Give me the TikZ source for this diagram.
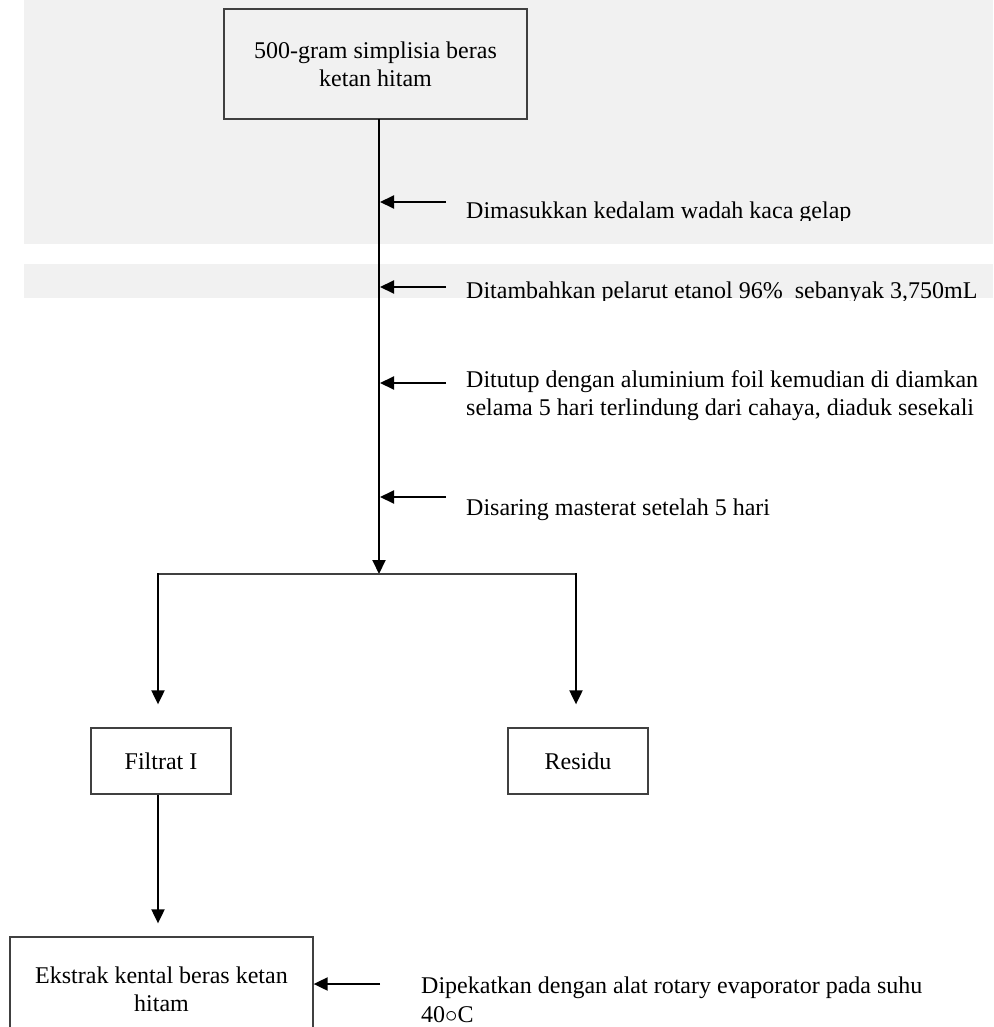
\documentclass[tikz,border=0pt]{standalone}
\usepackage{fontspec}
\setmainfont{Liberation Serif}
\usetikzlibrary{arrows.meta}
\definecolor{bandgray}{HTML}{F1F1F1}
\definecolor{boxline}{HTML}{404040}
\begin{document}
\begin{tikzpicture}[x=1pt,y=-1pt,
  every node/.style={font=\fontsize{24}{28}\selectfont, inner sep=0pt},
  stepbox/.style={draw=boxline, line width=1.3pt, align=center},
  flow/.style={draw=black, line width=2pt, -{Triangle[length=14pt,width=13pt]}},
  plain/.style={draw=boxline, line width=1.5pt},
  note/.style={anchor=north west, align=left},
  noteline/.style={anchor=base west}]
\useasboundingbox (0,0) rectangle (993,1027);
\clip (0,0) rectangle (993,1027);
% background bands
\fill[bandgray] (24,0) rectangle (993,244);
\fill[bandgray] (24,264) rectangle (993,298);

% boxes
\node[stepbox, minimum width=303pt, minimum height=110pt] (start) at (375.5,64) {500-gram simplisia beras\\ketan hitam};
\node[stepbox, minimum width=140pt, minimum height=66pt] (filtrat) at (161,761) {Filtrat I};
\node[stepbox, minimum width=140pt, minimum height=66pt] (residu) at (578,761) {Residu};
\node[stepbox, minimum width=303pt, minimum height=104pt] (ekstrak) at (161.5,989) {Ekstrak kental beras ketan\\hitam};

% main flow
\coordinate (m0) at (379,119);
\coordinate (m1) at (379,574);
\draw[flow] (m0) -- (m1);

% side inputs
\coordinate (a1) at (446,202);
\coordinate (a2) at (446,287);
\coordinate (a3) at (446,383);
\coordinate (a4) at (446,497);
\draw[flow] (a1) -- (a1 -| 380,0);
\draw[flow] (a2) -- (a2 -| 380,0);
\draw[flow] (a3) -- (a3 -| 380,0);
\draw[flow] (a4) -- (a4 -| 380,0);

% side texts
\begin{scope}
  \clip (460,190) rectangle (993,220);
  \node[noteline] (t1) at (466,218) {Dimasukkan kedalam wadah kaca gelap};
\end{scope}
\begin{scope}
  \clip (460,270) rectangle (993,300);
  \node[noteline] (t2) at (466,298) {Ditambahkan pelarut etanol 96\%~~sebanyak 3,750mL};
\end{scope}
\node[note] (t3) at (466,370.6) {Ditutup dengan aluminium foil kemudian di diamkan\\selama 5 hari terlindung dari cahaya, diaduk sesekali};
\node[noteline] (t4) at (466,515) {Disaring masterat setelah 5 hari};

% split
\coordinate (sl) at (158,574);
\coordinate (sr) at (576,574);
\draw[plain] (sl) -- (sr);
\draw[flow, shorten >=23pt] ([yshift=0.75pt]sl) -- (sl |- filtrat.north);
\draw[flow, shorten >=23pt] ([yshift=0.75pt]sr) -- (sr |- residu.north);

% filtrat to ekstrak
\draw[flow, shorten >=13pt] (filtrat.south -| sl) -- (sl |- ekstrak.north);

% evaporator input
\coordinate (p1) at (380,984);
\draw[flow] (p1) -- (p1 -| ekstrak.east);
\node[note] (t5) at (421,976.6) {Dipekatkan dengan alat rotary evaporator pada suhu\\[1pt]40$\circ$C};
\end{tikzpicture}
\end{document}
